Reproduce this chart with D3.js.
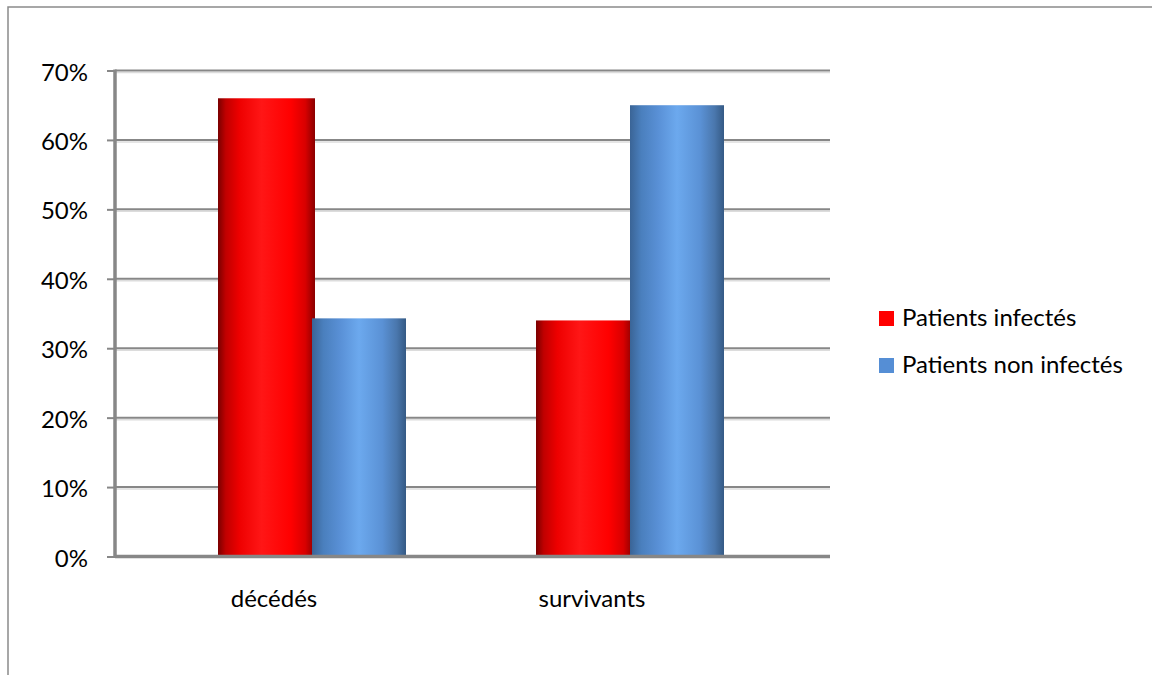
<!DOCTYPE html>
<html>
<head>
<meta charset="utf-8">
<script src="https://cdn.jsdelivr.net/npm/d3@7"></script>
<style>
  html, body { margin: 0; padding: 0; background: #fff; }
  svg { display: block; }
  text { font-family: Lato, "Open Sans", sans-serif; fill: #000; }
</style>
</head>
<body>
<svg id="chart" width="1152" height="675"></svg>
<script>
const categories = ["décédés", "survivants"];
const seriesNames = ["Patients infectés", "Patients non infectés"];
const infectes = [66, 34];
const nonInfectes = [34.3, 65];
const tickValues = [0, 10, 20, 30, 40, 50, 60, 70];
const tickLabels = ["0%", "10%", "20%", "30%", "40%", "50%", "60%", "70%"];

const svg = d3.select("#chart");
const defs = svg.append("defs");

// outer frame
svg.append("rect").attr("x", 8).attr("y", 7).attr("width", 1200).attr("height", 700)
  .attr("fill", "none").attr("stroke", "#8a8a8a").attr("stroke-width", 1.5);

const plotLeft = 115, plotRight = 830;
const y = d3.scaleLinear().domain([0, 70]).range([556.5, 70.5]);

// category scale for labels and bar groups
const xLabel = d3.scaleBand().domain(categories).range([115, 751]);
const xGroup = d3.scaleBand().domain(categories).range([153, 789]);
const xInner = d3.scaleBand().domain(seriesNames).range([65, 253]);

// gradients
function grad(id, stops) {
  const g = defs.append("linearGradient").attr("id", id)
    .attr("x1", "0%").attr("x2", "100%").attr("y1", "0%").attr("y2", "0%");
  stops.forEach(s => g.append("stop").attr("offset", s[0]).attr("stop-color", s[1]));
}
grad("gRed", [["0%", "#7a0000"], ["8%", "#c00000"], ["22%", "#ee0000"], ["45%", "#ff1616"], ["75%", "#ff0000"], ["90%", "#d80000"], ["100%", "#8a0000"]]);
grad("gBlue", [["0%", "#3a6496"], ["12%", "#4a7fbd"], ["30%", "#5990d6"], ["50%", "#6ca9ee"], ["75%", "#5a91d5"], ["90%", "#4a77ad"], ["100%", "#355a85"]]);

// gridlines
const grid = svg.append("g");
tickValues.filter(v => v > 0).forEach(v => {
  grid.append("line").attr("x1", plotLeft).attr("x2", plotRight)
    .attr("y1", y(v) + 2).attr("y2", y(v) + 2).attr("stroke", "#dcdcdc").attr("stroke-width", 1.5);
  grid.append("line").attr("x1", plotLeft).attr("x2", plotRight)
    .attr("y1", y(v)).attr("y2", y(v)).attr("stroke", "#878787").attr("stroke-width", 2);
});

// y axis via d3.axisLeft
const yAxis = d3.axisLeft(y).tickValues(tickValues)
  .tickFormat((d, i) => tickLabels[i]).tickSize(8).tickPadding(19);
const ya = svg.append("g").attr("transform", `translate(${plotLeft},0)`).call(yAxis);
ya.select(".domain").remove();
ya.selectAll(".tick line").attr("stroke", "#878787").attr("stroke-width", 2);
ya.selectAll(".tick text").attr("font-size", 24).attr("dy", "9.5")
  .style("font-family", "Lato, sans-serif").attr("fill", "#000");

// bars
const bars = svg.append("g");
categories.forEach((c, i) => {
  const gx = xGroup(c);
  const bw = xInner.bandwidth();
  bars.append("rect")
    .attr("x", gx + xInner(seriesNames[0])).attr("y", y(infectes[i]))
    .attr("width", bw + 3).attr("height", y(0) - y(infectes[i]))
    .attr("fill", "url(#gRed)");
  bars.append("rect")
    .attr("x", gx + xInner(seriesNames[1])).attr("y", y(nonInfectes[i]))
    .attr("width", bw).attr("height", y(0) - y(nonInfectes[i]))
    .attr("fill", "url(#gBlue)");
});

// axis lines
svg.append("line").attr("x1", plotLeft).attr("x2", plotLeft)
  .attr("y1", y(70) - 1).attr("y2", y(0) + 1.5).attr("stroke", "#878787").attr("stroke-width", 3.5);
svg.append("line").attr("x1", plotLeft).attr("x2", plotRight)
  .attr("y1", y(0)).attr("y2", y(0)).attr("stroke", "#878787").attr("stroke-width", 3.5);

// x labels
const xAxis = d3.axisBottom(xLabel).tickSize(0).tickPadding(0);
const xa = svg.append("g").attr("transform", `translate(0,${y(0)})`).call(xAxis);
xa.select(".domain").remove();
xa.selectAll(".tick text").attr("font-size", 24).attr("y", 0).attr("dy", "50.5")
  .style("font-family", "Lato, sans-serif").attr("fill", "#000");

// legend
const legendColors = ["#ff0000", "#558ed5"];
const legend = svg.append("g");
seriesNames.forEach((s, i) => {
  const yy = 311 + i * 47;
  legend.append("rect").attr("x", 879).attr("y", yy).attr("width", 15).attr("height", 15)
    .attr("fill", legendColors[i]);
  legend.append("text").attr("x", 902).attr("y", yy + 15).attr("font-size", 24).text(s);
});
</script>
</body>
</html>
